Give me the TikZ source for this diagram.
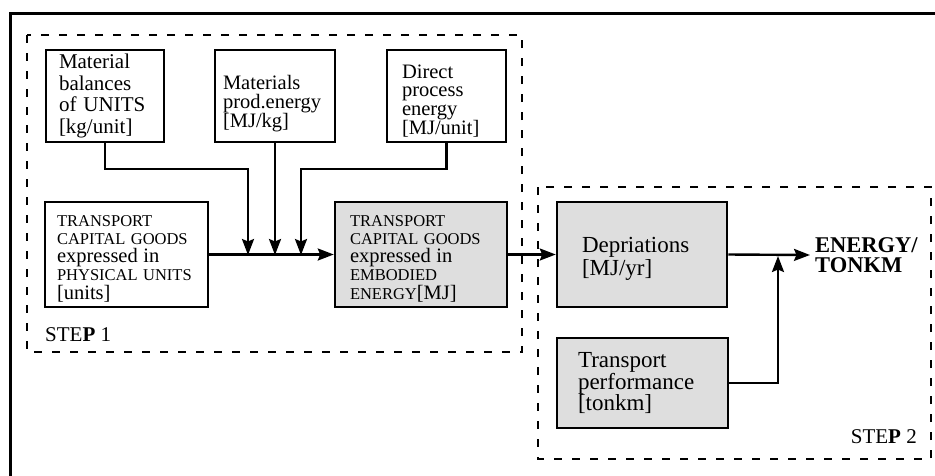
\documentclass[tikz,border=0pt]{standalone}
\usepackage{fontspec}
\setmainfont{Liberation Serif}
\usetikzlibrary{arrows.meta}
\definecolor{boxgray}{RGB}{222,222,222}
\hyphenpenalty=10000
\exhyphenpenalty=10000
\newcommand\capsz{\fontsize{16.5}{18.2}\selectfont}
\newcommand\bigsz{\fontsize{20.5}{18.2}\selectfont}
\newcommand\pushdown[1]{\rule{0pt}{#1}}
\tikzset{
  frame/.style={line width=3pt},
  stepframe/.style={line width=2.2pt, dash pattern=on 8pt off 10pt},
  boxbase/.style={draw, line width=2.5pt, align=left, inner ysep=0pt, minimum height=#1},
  wbox/.style={boxbase=#1},
  gbox/.style={boxbase=#1, fill=boxgray},
  conn/.style={line width=2.4pt},
  arr/.style={conn, -{Stealth[length=16pt,width=12pt,inset=2.5pt]}},
  steplbl/.style={font=\fontsize{21}{22}\selectfont, inner sep=0pt},
  mixfont/.style={font=\capsz}
}
\begin{document}
\lineskiplimit=-50pt
\begin{tikzpicture}[x=1pt,y=-1pt]
\useasboundingbox (0,0) rectangle (935,475);
% outer frame (only top and left edges visible)
\draw[frame] (10,476) -- (10,13) -- (936,13);
% step frames
\draw[stepframe] (27,35) rectangle (522,352);
\draw[stepframe] (538,187) rectangle (931,459);
% top input boxes
\node[wbox=92pt, inner xsep=13pt, text width=92pt,
      font=\fontsize{21}{21.7}\selectfont]
  (b1) at (105,96) {Material\\balances\\of UNITS\\{}[kg/unit]};
\node[wbox=92pt, inner xsep=8pt, text width=104pt,
      font=\fontsize{20.5}{18.5}\selectfont]
  (b2) at (275,96) {\pushdown{30pt}Materials\\prod.energy\\{}[MJ/kg]};
\node[wbox=92pt, inner xsep=15pt, text width=89pt,
      font=\fontsize{20.5}{18.5}\selectfont]
  (b3) at (446.5,96) {\pushdown{24pt}Direct\\process\\energy\\{}[MJ/unit]};
% middle row
\node[wbox=105pt, inner xsep=12pt, text width=139pt, mixfont]
  (b4) at (126.5,254.5) {\pushdown{19pt}TRANSPORT\\CAPITAL GOODS\\\bigsz expressed in\\\capsz PHYSICAL UNITS\\\bigsz{}[units]};
\node[gbox=105pt, inner xsep=15pt, text width=142pt, mixfont]
  (b5) at (421,254.5) {\pushdown{19pt}TRANSPORT\\CAPITAL GOODS\\\bigsz expressed in\\\capsz EMBODIED\\ENERGY\bigsz{}[MJ]};
\node[gbox=105pt, inner xsep=25pt, text width=120pt,
      font=\fontsize{23}{23}\selectfont]
  (dep) at (642,254.5) {\pushdown{24pt}Depriations\\{}[MJ/yr]};
\node[gbox=90pt, inner xsep=21pt, text width=129pt,
      font=\fontsize{23}{20.5}\selectfont]
  (tp) at (642.5,383) {Transport\\performance\\{}[tonkm]};
\node[font=\bfseries\fontsize{22.5}{20.5}\selectfont,
      align=left, anchor=west, inner xsep=5pt, inner ysep=0pt]
  (en) at (810,255) {ENERGY/\\TONKM};
% step labels
\node[steplbl, anchor=west] (s1) at (45,335) {STE\textbf{P} 1};
\node[steplbl, anchor=east] (s2) at (917,437) {STE\textbf{P} 2};
% junction coordinates
\coordinate (k1) at (248,169);
\coordinate (k3) at (301,169);
\coordinate (j1) at (248,255);
\coordinate (j2) at (275,255);
\coordinate (j3) at (301,255);
\coordinate (jj) at (778,256);
% connectors
\draw[arr] (b1.south) |- (k1) -- (j1);
\draw[arr] (b2.south) -- (j2);
\draw[arr] (b3.south) |- (k3) -- (j3);
\draw[arr] (b4.east) -- (b5.west);
\draw[arr] (b5.east) -- (dep.west);
\draw[arr] (dep.east) -- (en.west);
\draw[arr] (tp.east) -| (jj);
\end{tikzpicture}
\end{document}
